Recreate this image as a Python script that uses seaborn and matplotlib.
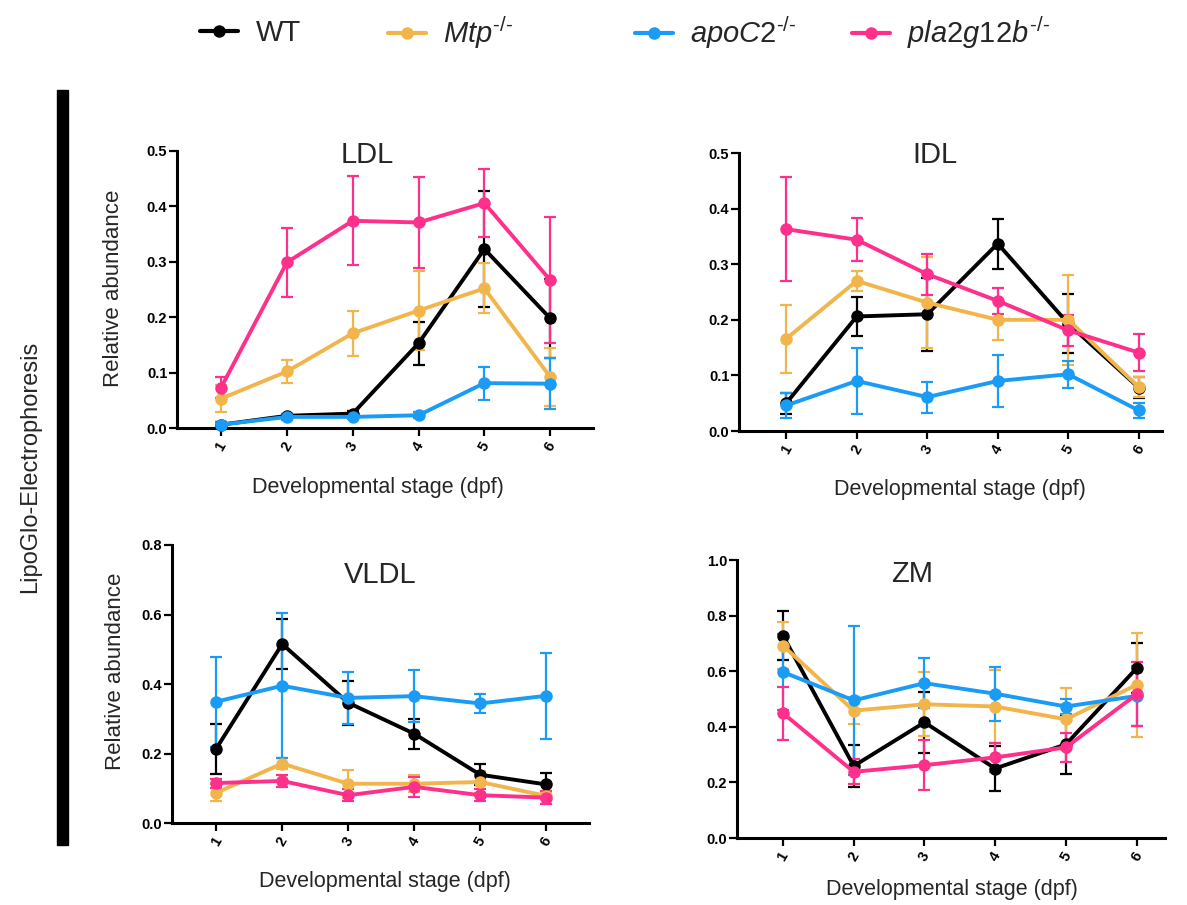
import numpy as np
import pandas as pd
import seaborn as sns
import matplotlib.pyplot as plt
from matplotlib.lines import Line2D
from matplotlib.patches import Rectangle

# ── Data (mean ± SD) ─────────────────────────────────────────────────
DPF = [1, 2, 3, 4, 5, 6]
GENOTYPES = ['WT', 'Mtp', 'apoC2', 'pla2g12b']
LEGEND_LABELS = ['WT', r'$\mathit{Mtp}^{\text{-/-}}$', r'$\mathit{apoC2}^{\text{-/-}}$',
                 r'$\mathit{pla2g12b}^{\text{-/-}}$']
COLORS = ['#000000', '#F2B54C', '#1A9BF5', '#FF2F8C']

LDL_WT = [0.006, 0.022, 0.026, 0.153, 0.323, 0.198]
LDL_WT_SD = [0.004, 0.004, 0.004, 0.039, 0.104, 0.071]
LDL_MTP = [0.053, 0.102, 0.171, 0.212, 0.252, 0.092]
LDL_MTP_SD = [0.025, 0.020, 0.041, 0.071, 0.045, 0.052]
LDL_APOC2 = [0.006, 0.020, 0.020, 0.023, 0.081, 0.080]
LDL_APOC2_SD = [0.004, 0.005, 0.004, 0.005, 0.030, 0.046]
LDL_PLA = [0.073, 0.299, 0.374, 0.371, 0.406, 0.267]
LDL_PLA_SD = [0.019, 0.062, 0.080, 0.082, 0.062, 0.113]

IDL_WT = [0.050, 0.206, 0.210, 0.337, 0.193, 0.078]
IDL_WT_SD = [0.019, 0.035, 0.066, 0.045, 0.053, 0.019]
IDL_MTP = [0.166, 0.270, 0.231, 0.200, 0.200, 0.079]
IDL_MTP_SD = [0.061, 0.018, 0.082, 0.037, 0.081, 0.018]
IDL_APOC2 = [0.046, 0.090, 0.061, 0.090, 0.102, 0.037]
IDL_APOC2_SD = [0.023, 0.060, 0.028, 0.047, 0.024, 0.013]
IDL_PLA = [0.363, 0.344, 0.282, 0.234, 0.181, 0.141]
IDL_PLA_SD = [0.094, 0.039, 0.037, 0.023, 0.028, 0.033]

VLDL_WT = [0.214, 0.515, 0.346, 0.257, 0.139, 0.111]
VLDL_WT_SD = [0.072, 0.072, 0.063, 0.043, 0.030, 0.032]
VLDL_MTP = [0.087, 0.171, 0.113, 0.113, 0.118, 0.078]
VLDL_MTP_SD = [0.025, 0.017, 0.040, 0.024, 0.032, 0.008]
VLDL_APOC2 = [0.349, 0.395, 0.360, 0.365, 0.344, 0.366]
VLDL_APOC2_SD = [0.130, 0.208, 0.075, 0.075, 0.028, 0.123]
VLDL_PLA = [0.115, 0.121, 0.080, 0.104, 0.080, 0.073]
VLDL_PLA_SD = [0.013, 0.017, 0.018, 0.028, 0.017, 0.018]

ZM_WT = [0.728, 0.259, 0.416, 0.250, 0.337, 0.611]
ZM_WT_SD = [0.088, 0.074, 0.109, 0.080, 0.107, 0.090]
ZM_MTP = [0.692, 0.458, 0.481, 0.473, 0.427, 0.551]
ZM_MTP_SD = [0.085, 0.048, 0.115, 0.131, 0.112, 0.188]
ZM_APOC2 = [0.597, 0.495, 0.557, 0.519, 0.473, 0.511]
ZM_APOC2_SD = [0.136, 0.268, 0.090, 0.097, 0.028, 0.108]
ZM_PLA = [0.449, 0.238, 0.262, 0.290, 0.326, 0.517]
ZM_PLA_SD = [0.095, 0.045, 0.090, 0.053, 0.052, 0.115]

# ── Style ────────────────────────────────────────────────────────────
sns.set_style('white')
plt.rcParams['font.family'] = ['Liberation Sans', 'DejaVu Sans']
plt.rcParams['mathtext.fontset'] = 'custom'
plt.rcParams['mathtext.rm'] = 'Liberation Sans'
plt.rcParams['mathtext.it'] = 'Liberation Sans:italic'

W, H = 1187, 905
fig = plt.figure(figsize=(W / 100, H / 100), dpi=100)


def px_axes(left, right, bottom, top):
    return fig.add_axes([left / W, 1 - bottom / H, (right - left) / W, (bottom - top) / H])


panels = [
    dict(title='LDL', rect=(177, 593, 428, 151), xlim=(0.33, 6.65), ymax=0.5, ystep=0.1,
         means=[LDL_WT, LDL_MTP, LDL_APOC2, LDL_PLA],
         sds=[LDL_WT_SD, LDL_MTP_SD, LDL_APOC2_SD, LDL_PLA_SD],
         title_xy=(0.457, 0.985), ylab=(-0.128, 0.505), xlab=(0.483, -0.178)),
    dict(title='IDL', rect=(739, 1162, 431, 153), xlim=(0.33, 6.33), ymax=0.5, ystep=0.1,
         means=[IDL_WT, IDL_MTP, IDL_APOC2, IDL_PLA],
         sds=[IDL_WT_SD, IDL_MTP_SD, IDL_APOC2_SD, IDL_PLA_SD],
         title_xy=(0.463, 0.993), ylab=None, xlab=(0.522, -0.173)),
    dict(title='VLDL', rect=(172, 589, 823, 545), xlim=(0.33, 6.65), ymax=0.8, ystep=0.2,
         means=[VLDL_WT, VLDL_MTP, VLDL_APOC2, VLDL_PLA],
         sds=[VLDL_WT_SD, VLDL_MTP_SD, VLDL_APOC2_SD, VLDL_PLA_SD],
         title_xy=(0.50, 0.892), ylab=(-0.111, 0.547), xlab=(0.511, -0.173)),
    dict(title='ZM', rect=(737, 1165, 838, 560), xlim=(0.35, 6.4), ymax=1.0, ystep=0.2,
         means=[ZM_WT, ZM_MTP, ZM_APOC2, ZM_PLA],
         sds=[ZM_WT_SD, ZM_MTP_SD, ZM_APOC2_SD, ZM_PLA_SD],
         title_xy=(0.409, 0.948), ylab=None, xlab=(0.502, -0.148)),
]

palette = dict(zip(GENOTYPES, COLORS))

for p in panels:
    ax = px_axes(*p['rect'])

    rows = []
    for g, m in zip(GENOTYPES, p['means']):
        for d, v in zip(DPF, m):
            rows.append({'dpf': d, 'value': v, 'genotype': g})
    df = pd.DataFrame(rows)

    # error bars (SD)
    for g, m, s in zip(GENOTYPES, p['means'], p['sds']):
        ax.errorbar(DPF, m, yerr=s, fmt='none', ecolor=palette[g],
                    elinewidth=1.6, capsize=4.5, capthick=1.6, zorder=2, clip_on=False)

    sns.lineplot(data=df, x='dpf', y='value', hue='genotype', hue_order=GENOTYPES,
                 palette=palette, marker='o', markersize=9, markeredgewidth=0,
                 linewidth=2.8, errorbar=None, legend=False, ax=ax, zorder=3,
                 clip_on=False)

    ax.set_xlim(*p['xlim'])
    ax.set_ylim(0, p['ymax'])
    ax.set_xticks(DPF)
    ax.set_xticklabels([str(d) for d in DPF], rotation=60, fontweight='bold', fontsize=10.5)
    yt = np.round(np.arange(0, p['ymax'] + 1e-9, p['ystep']), 2)
    ax.set_yticks(yt)
    ax.set_yticklabels([f'{v:.1f}' for v in yt], fontweight='bold', fontsize=10.5)
    ax.tick_params(axis='both', direction='out', length=5.5, width=1.6, pad=1.5,
                   left=True, bottom=True, colors='black')
    ax.tick_params(axis='x', pad=3)

    for side in ['top', 'right']:
        ax.spines[side].set_visible(False)
    for side in ['left', 'bottom']:
        ax.spines[side].set_linewidth(2.2)
        ax.spines[side].set_color('black')

    ax.text(*p['title_xy'], p['title'], transform=ax.transAxes, ha='center',
            va='center', fontsize=21)
    ax.set_xlabel('Developmental stage (dpf)', fontsize=15.5)
    ax.xaxis.set_label_coords(*p['xlab'])
    if p['ylab'] is not None:
        ax.set_ylabel('Relative abundance', fontsize=16)
        ax.yaxis.set_label_coords(*p['ylab'])
    else:
        ax.set_ylabel('')
    ax.patch.set_alpha(0)

# ── Legend entries along the top ────────────────────────────────────
legend_x = [200, 388, 635, 852]
for lab, col, x0 in zip(LEGEND_LABELS, COLORS, legend_x):
    h = Line2D([], [], color=col, lw=3, marker='o', markersize=9, markeredgewidth=0)
    fig.legend([h], [lab], loc='center left', bbox_to_anchor=(x0 / W, 1 - 33 / H),
               frameon=False, fontsize=21, handlelength=1.3, handletextpad=0.6,
               borderpad=0, borderaxespad=0)

# ── Side bar and label ──────────────────────────────────────────────
fig.add_artist(Rectangle((57 / W, 1 - 845 / H), 11 / W, 755 / H,
                         transform=fig.transFigure, color='black'))
fig.text(30 / W, 1 - 467 / H, 'LipoGlo-Electrophoresis', rotation=90,
         ha='center', va='center', fontsize=17)

fig.savefig('out.png', dpi=100)
